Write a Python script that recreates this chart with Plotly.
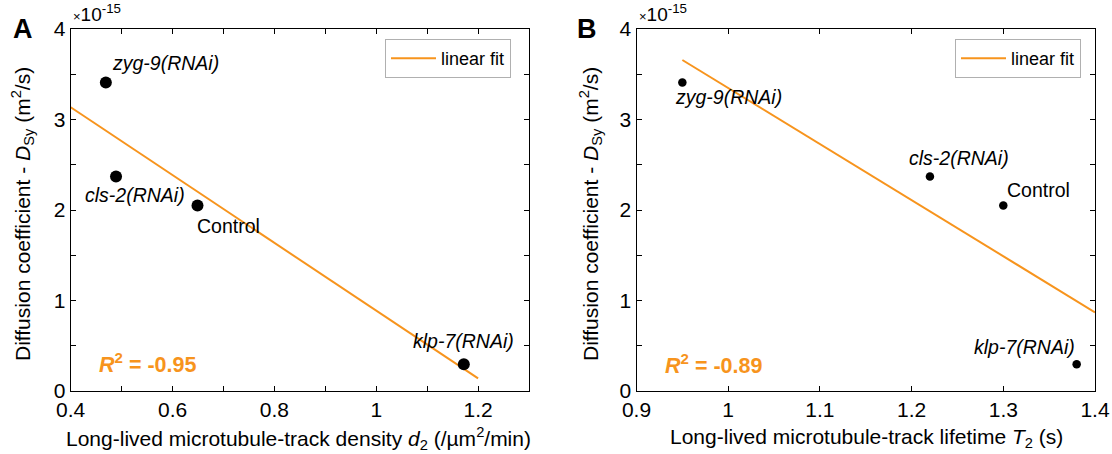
import numpy as np
import plotly.graph_objects as go

# ---------------- data ----------------
conditions = ["zyg-9(RNAi)", "cls-2(RNAi)", "Control", "klp-7(RNAi)"]
density_d2 = [0.469, 0.489, 0.649, 1.172]        # /um^2/min
lifetime_T2 = [0.95, 1.22, 1.30, 1.38]           # s
diffusion_D = [3.41, 2.37, 2.05, 0.295]          # x 1e-15 m^2/s
r2_text = ["-0.95", "-0.89"]
fit_range_A = [0.4, 1.2]
fit_range_B = [0.95, 1.4]
xticks_A = [0.4, 0.6, 0.8, 1.0, 1.2]
xticklabels_A = ["0.4", "0.6", "0.8", "1", "1.2"]
xticks_B = [0.9, 1.0, 1.1, 1.2, 1.3, 1.4]
xticklabels_B = ["0.9", "1", "1.1", "1.2", "1.3", "1.4"]
yticks = [0, 1, 2, 3, 4]

ORANGE = "#F7941D"
FONT = "Arial, Liberation Sans, sans-serif"

W, H = 1112, 454
def px_x(p):
    return p / W
def px_y(p):
    return 1 - p / H

fig = go.Figure()

def fit_line(x, y, rng):
    k, b = np.polyfit(np.array(x), np.array(y), 1)
    xs = np.array(rng)
    return xs, k * xs + b

fxA, fyA = fit_line(density_d2, diffusion_D, fit_range_A)
fxB, fyB = fit_line(lifetime_T2, diffusion_D, fit_range_B)

fig.add_trace(go.Scatter(x=fxA, y=fyA, mode="lines", name="linear fit",
                         line=dict(color=ORANGE, width=2), xaxis="x", yaxis="y",
                         legend="legend"))
fig.add_trace(go.Scatter(x=density_d2, y=diffusion_D, mode="markers", showlegend=False,
                         marker=dict(color="black", size=12), xaxis="x", yaxis="y"))
fig.add_trace(go.Scatter(x=fxB, y=fyB, mode="lines", name="linear fit",
                         line=dict(color=ORANGE, width=2), xaxis="x2", yaxis="y2",
                         legend="legend2"))
fig.add_trace(go.Scatter(x=lifetime_T2, y=diffusion_D, mode="markers", showlegend=False,
                         marker=dict(color="black", size=8.5), xaxis="x2", yaxis="y2"))

axis_common = dict(showline=True, linecolor="black", linewidth=1.3, mirror="ticks",
                   ticks="inside", ticklen=5, tickcolor="black", tickwidth=1,
                   showgrid=False, zeroline=False, automargin=False,
                   tickfont=dict(family=FONT, size=21, color="black"))

ydom = [px_y(391), px_y(29)]

fig.update_layout(
    template="none",
    width=W, height=H,
    margin=dict(l=0, r=0, t=0, b=0, pad=0),
    paper_bgcolor="white", plot_bgcolor="white",
    font=dict(family=FONT, color="black"),
    xaxis=dict(domain=[px_x(70.7), px_x(529)], range=[0.4, 1.3], anchor="y",
               tickvals=xticks_A, ticktext=xticklabels_A,
               minor=dict(ticks="inside", ticklen=5, dtick=0.1, tick0=0.4, tickcolor="black"),
               **axis_common),
    yaxis=dict(domain=ydom, range=[0, 4], anchor="x", tickvals=yticks,
               minor=dict(ticks="inside", ticklen=5, dtick=0.5, tick0=0, tickcolor="black"),
               **axis_common),
    xaxis2=dict(domain=[px_x(636.5), px_x(1095)], range=[0.9, 1.4], anchor="y2",
                tickvals=xticks_B, ticktext=xticklabels_B,
                **axis_common),
    yaxis2=dict(domain=ydom, range=[0, 4], anchor="x2", tickvals=yticks,
                minor=dict(ticks="inside", ticklen=5, dtick=0.5, tick0=0, tickcolor="black"),
                **axis_common),
    legend=dict(x=px_x(511), y=px_y(39), xanchor="right", yanchor="top",
                bgcolor="white", bordercolor="#b0b0b0", borderwidth=1, itemwidth=45,
                font=dict(size=18, family=FONT)),
    legend2=dict(x=px_x(1081), y=px_y(39), xanchor="right", yanchor="top",
                 bgcolor="white", bordercolor="#b0b0b0", borderwidth=1, itemwidth=45,
                 font=dict(size=18, family=FONT)),
)

# axis titles
ytitle = "Diffusion coefficient - <i>D</i><sub>Sy</sub> (m<sup>2</sup>/s)"
for cx in (22, 590):
    fig.add_annotation(x=px_x(cx), y=px_y(214), xref="paper", yref="paper", text=ytitle,
                       textangle=-90, showarrow=False, xanchor="center", yanchor="middle",
                       font=dict(size=21, family=FONT, color="black"))
xtitles = [("Long-lived microtubule-track density <i>d</i><sub>2</sub> (/µm<sup>2</sup>/min)", 298),
           ("Long-lived microtubule-track lifetime <i>T</i><sub>2</sub> (s)", 866)]
for txt, cx in xtitles:
    fig.add_annotation(x=px_x(cx), y=px_y(438), xref="paper", yref="paper", text=txt,
                       showarrow=False, xanchor="center", yanchor="middle",
                       font=dict(size=21, family=FONT, color="black"))

# point labels
labA = {"zyg-9(RNAi)": (0.477, 3.62), "cls-2(RNAi)": (0.424, 2.17),
        "Control": (0.644, 1.82), "klp-7(RNAi)": (1.069, 0.55)}
labB = {"zyg-9(RNAi)": (0.94, 3.25), "cls-2(RNAi)": (1.195, 2.58),
        "Control": (1.302, 2.22), "klp-7(RNAi)": (1.266, 0.49)}
for name in conditions:
    txt = name if name == "Control" else f"<i>{name}</i>"
    for (xr, yr, lab) in (("x", "y", labA), ("x2", "y2", labB)):
        lx, ly = lab[name]
        fig.add_annotation(x=lx, y=ly, xref=xr, yref=yr, text=txt, showarrow=False,
                           xanchor="left", yanchor="middle",
                           font=dict(size=19.5, family=FONT, color="black"))

# R^2 annotations
for (xr, yr, lx, ly, r) in (("x", "y", 0.451, 0.31, r2_text[0]), ("x2", "y2", 0.929, 0.30, r2_text[1])):
    fig.add_annotation(x=lx, y=ly, xref=xr, yref=yr,
                       text=f"<b><i>R</i><sup>2</sup> = {r}</b>", showarrow=False,
                       xanchor="left", yanchor="middle",
                       font=dict(size=21.5, family=FONT, color=ORANGE))

# exponent labels and panel letters
for (lx, letter, cx) in ((71, "A", 23), (637, "B", 587)):
    fig.add_annotation(x=px_x(lx), y=px_y(27), xref="paper", yref="paper",
                       text="<span style='font-size:13px'>×</span>10<sup>-15</sup>",
                       showarrow=False, xanchor="left", yanchor="bottom",
                       font=dict(size=19, family=FONT, color="black"))
    fig.add_annotation(x=px_x(cx), y=px_y(29), xref="paper", yref="paper",
                       text=f"<b>{letter}</b>", showarrow=False,
                       xanchor="center", yanchor="middle",
                       font=dict(size=27, family=FONT, color="black"))

fig.write_html("out.html")
